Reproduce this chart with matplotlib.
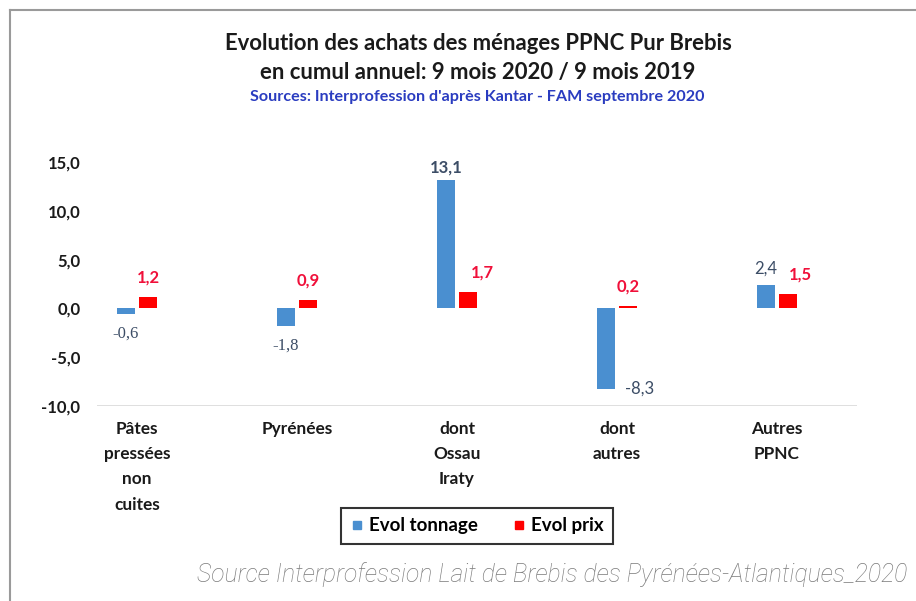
import numpy as np
import matplotlib
matplotlib.use("Agg")
import matplotlib.pyplot as plt
from matplotlib.lines import Line2D

# data
categories = ["Pâtes\npressées\nnon\ncuites", "Pyrénées", "dont\nOssau\nIraty", "dont\nautres", "Autres\nPPNC"]
evol_tonnage = [-0.6, -1.8, 13.1, -8.3, 2.4]
evol_prix = [1.2, 0.9, 1.7, 0.2, 1.5]
tonnage_labels = ["-0,6", "-1,8", "13,1", "-8,3", "2,4"]
prix_labels = ["1,2", "0,9", "1,7", "0,2", "1,5"]
yticks = [-10, -5, 0, 5, 10, 15]
ytick_labels = ["-10,0", "-5,0", "0,0", "5,0", "10,0", "15,0"]

BLUE = "#4a8fd0"
RED = "#ff0000"

plt.rcParams["font.family"] = ["Lato", "DejaVu Sans"]

W, H = 916, 601
fig = plt.figure(figsize=(W / 100, H / 100), dpi=100)
fig.patch.set_facecolor("white")

# axes placed in pixels: left 97, right 857, bottom at -10 -> y=406
ax = fig.add_axes([97 / W, (H - 406) / H, 760 / W, 263.6 / H])
ax.set_xlim(-0.25, 4.5)
ax.set_ylim(-10, 17)

x = np.arange(len(categories))
bw = 0.11
off = 0.07
ax.bar(x - off, evol_tonnage, bw, color=BLUE, zorder=3)
ax.bar(x + off, evol_prix, bw, color=RED, zorder=3)

ax.axhline(-10, color="#d9d9d9", lw=1.2, zorder=1)

for s in ax.spines.values():
    s.set_visible(False)

ax.set_yticks(yticks)
ax.set_yticklabels(ytick_labels, fontsize=12, fontweight="bold", color="#1a1a1a")
ax.set_xticks(x)
ax.set_xticklabels(categories, fontsize=12.4, fontweight="bold", color="#1a1a1a",
                   linespacing=1.7, va="top")
ax.tick_params(axis="y", length=0, pad=12)
ax.tick_params(axis="x", length=0, pad=11)

# value labels (offsets in pixels)
ton_off = [(0, -19), (0, -20), (0, 13), (19, 1), (0, 16)]
ton_fonts = ["Liberation Serif", "Liberation Serif", "Lato", "Lato", "Lato"]
ton_weight = ["normal", "normal", "bold", "normal", "normal"]
for i, (v, lab) in enumerate(zip(evol_tonnage, tonnage_labels)):
    dx, dy = ton_off[i]
    ax.annotate(lab, (x[i] - off, v), xytext=(dx, dy), textcoords="offset pixels",
                ha="left" if dx else "center", va="center", fontsize=12,
                color="#3c4d66", family=[ton_fonts[i], "DejaVu Sans"],
                fontweight=ton_weight[i])

prix_off = [(0, 19), (0, 19), (14, 19), (0, 20), (12, 19)]
for i, (v, lab) in enumerate(zip(evol_prix, prix_labels)):
    dx, dy = prix_off[i]
    ax.annotate(lab, (x[i] + off, v), xytext=(dx, dy), textcoords="offset pixels",
                ha="center", va="center", fontsize=12, fontweight="bold",
                color="#f0103a")

# titles
fig.text(478 / W, 1 - 43 / H, "Evolution des achats des ménages PPNC Pur Brebis",
         ha="center", va="center", fontsize=15.9, fontweight="bold", color="#1a1a1a")
fig.text(478 / W, 1 - 72 / H, "en cumul annuel: 9 mois 2020 / 9 mois 2019",
         ha="center", va="center", fontsize=15.9, fontweight="bold", color="#1a1a1a")
fig.text(477 / W, 1 - 97 / H, "Sources: Interprofession d'après Kantar - FAM septembre 2020",
         ha="center", va="center", fontsize=11.6, fontweight="bold", color="#2a3cc0")

# legend
handles = [Line2D([], [], marker="s", ls="", color=BLUE, markersize=6),
           Line2D([], [], marker="s", ls="", color=RED, markersize=6)]
leg = fig.legend(handles, ["Evol tonnage", "Evol prix"], loc="center",
                 bbox_to_anchor=(477 / W, 1 - 526 / H), ncol=2, frameon=True,
                 fancybox=False, edgecolor="black", handlelength=0.7,
                 handletextpad=0.3, columnspacing=1.8, borderpad=0.5,
                 borderaxespad=0, prop={"weight": "bold", "size": 13.5})
leg.get_frame().set_linewidth(1.5)

# footer
fig.text(907 / W, 1 - 575 / H,
         "Source Interprofession Lait de Brebis des Pyrénées-Atlantiques_2020",
         ha="right", va="center", fontsize=17.8, style="italic", fontweight="light",
         color="#7a7a7a", family=["Roboto", "DejaVu Sans"])

# outer frame (left and top edges)
fig.add_artist(Line2D([10 / W, 10 / W], [0, 1 - 10 / H], transform=fig.transFigure,
                      color="#9a9a9a", lw=1.5))
fig.add_artist(Line2D([10 / W, 1], [1 - 10 / H, 1 - 10 / H], transform=fig.transFigure,
                      color="#9a9a9a", lw=1.5))

fig.savefig("out.png", dpi=100)
